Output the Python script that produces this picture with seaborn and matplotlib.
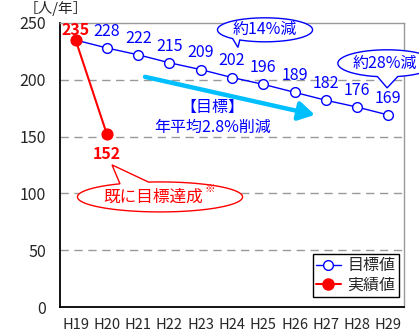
import numpy as np
import pandas as pd
import matplotlib
matplotlib.use("Agg")
import matplotlib.pyplot as plt
import seaborn as sns
from matplotlib.patches import Polygon, FancyArrowPatch
from matplotlib.lines import Line2D

# ---- data ----
years = ["H19", "H20", "H21", "H22", "H23", "H24", "H25", "H26", "H27", "H28", "H29"]
target_values = [235, 228, 222, 215, 209, 202, 196, 189, 182, 176, 169]
actual_years = ["H19", "H20"]
actual_values = [235, 152]
y_ticks = [0, 50, 100, 150, 200, 250]

sns.set_style("white")
plt.rcParams["font.family"] = ["Noto Sans CJK JP", "DejaVu Sans"]

BLUE = "#0000FF"
RED = "#FF0000"

fig = plt.figure(figsize=(4.19, 3.36), dpi=100)
ax = fig.add_axes([60 / 419, 1 - 307 / 336, 344 / 419, 284 / 336])

xi = [years.index(y) for y in years]
xa = [years.index(y) for y in actual_years]
df_t = pd.DataFrame({"x": xi, "v": target_values})
df_a = pd.DataFrame({"x": xa, "v": actual_values})

sns.lineplot(data=df_t, x="x", y="v", ax=ax, color=BLUE, lw=1.0, marker="o",
             markersize=7, markerfacecolor="white", markeredgecolor=BLUE,
             markeredgewidth=1.0, zorder=3)
sns.lineplot(data=df_a, x="x", y="v", ax=ax, color=RED, lw=1.5, marker="o",
             markersize=8, markerfacecolor=RED, markeredgecolor=RED, zorder=4)

ax.set_xlim(-0.5, len(years) - 0.5)
ax.set_ylim(0, 250)
ax.set_yticks(y_ticks)
ax.set_yticklabels([str(v) for v in y_ticks], fontsize=11.5)
ax.set_xticks(xi)
ax.set_xticklabels(years, fontsize=10.5)
ax.set_xticks(np.arange(0.5, len(years) - 0.5, 1.0), minor=True)
ax.tick_params(axis="y", length=0, pad=10)
ax.tick_params(axis="x", which="major", length=0, pad=8)
ax.tick_params(axis="x", which="minor", length=5, direction="in", width=1, color="black")
ax.set_xlabel("")
ax.set_ylabel("")

for y in y_ticks[1:-1]:
    ax.axhline(y, color="#999999", lw=1, ls=(0, (6, 4)), zorder=1)

for s in ["left", "bottom"]:
    ax.spines[s].set_color("black")
    ax.spines[s].set_linewidth(1.3)
for s in ["top", "right"]:
    ax.spines[s].set_color("#999999")
    ax.spines[s].set_linewidth(1.0)

# value labels
for x, v in zip(xi[1:], target_values[1:]):
    ax.annotate(str(v), (x, v), xytext=(0, 12), textcoords="offset points",
                ha="center", va="center", color=BLUE, fontsize=11.5, zorder=6)
ax.annotate(str(actual_values[0]), (xa[0], actual_values[0]), xytext=(0, 7.5),
            textcoords="offset points", ha="center", va="center", color=RED,
            fontsize=11.5, fontweight="bold", zorder=6)
ax.annotate(str(actual_values[1]), (xa[1], actual_values[1]), xytext=(0, -14),
            textcoords="offset points", ha="center", va="center", color=RED,
            fontsize=11.5, fontweight="bold", zorder=6)


def callout(cx, cy, w, h, t1, t2, tip, color, lw=1.0):
    t1r, t2r = np.deg2rad(t1), np.deg2rad(t2)
    ts = np.linspace(t2r, t1r + 2 * np.pi, 200)
    pts = [(cx + w / 2 * np.cos(t), cy + h / 2 * np.sin(t)) for t in ts]
    pts.append(tip)
    poly = Polygon(pts, closed=True, facecolor="white", edgecolor=color, lw=lw,
                   zorder=7, clip_on=False)
    ax.add_patch(poly)


callout(6.056, 244.0, 3.04, 21.1, 227, 238, (5.19, 228.5), BLUE)
ax.text(6.056, 244.0, "約14%減", ha="center", va="center", color=BLUE, fontsize=11.5, zorder=8)
callout(9.95, 214.5, 3.13, 23.8, 259, 283, (9.96, 192.9), BLUE)
ax.text(9.88, 214.5, "約28%減", ha="center", va="center", color=BLUE, fontsize=11.5,
        zorder=8, clip_on=False)
callout(2.698, 96.9, 5.28, 26.4, 98, 119, (1.163, 125.1), RED)
ax.text(2.48, 96.9, "既に目標達成", ha="center", va="center", color=RED, fontsize=12, zorder=8)
ax.text(4.30, 104.0, "※", ha="center", va="center", color=RED, fontsize=7.5, zorder=8)

# arrow
arr = FancyArrowPatch((2.22, 202.6), (7.65, 169.1), arrowstyle="-|>,head_length=6,head_width=3.5",
                      color="#00BFFF", lw=3.2, mutation_scale=1.6, zorder=5,
                      shrinkA=0, shrinkB=0)
ax.add_patch(arr)
ax.text(4.36, 175.3, "【目標】", ha="center", va="center", color=BLUE, fontsize=11.5, zorder=6)
ax.text(4.39, 157.7, "年平均2.8%削減", ha="center", va="center", color=BLUE, fontsize=11.5, zorder=6)

fig.text(56 / 419, 1 - 9 / 336, "［人/年］", ha="center", va="center", fontsize=10.5)

handles = [
    Line2D([], [], color=BLUE, lw=1.0, marker="o", markersize=7,
           markerfacecolor="white", markeredgecolor=BLUE),
    Line2D([], [], color=RED, lw=1.5, marker="o", markersize=8,
           markerfacecolor=RED, markeredgecolor=RED),
]
leg = ax.legend(handles, ["目標値", "実績値"], loc="lower right",
                bbox_to_anchor=(0.985, 0.035), borderaxespad=0, fancybox=False,
                edgecolor="black", framealpha=1, fontsize=11.5, handlelength=1.6,
                handletextpad=0.4, borderpad=0.2, labelspacing=0.15)
leg.get_frame().set_linewidth(1.0)
leg.set_zorder(9)

fig.savefig("out.png", dpi=100)
